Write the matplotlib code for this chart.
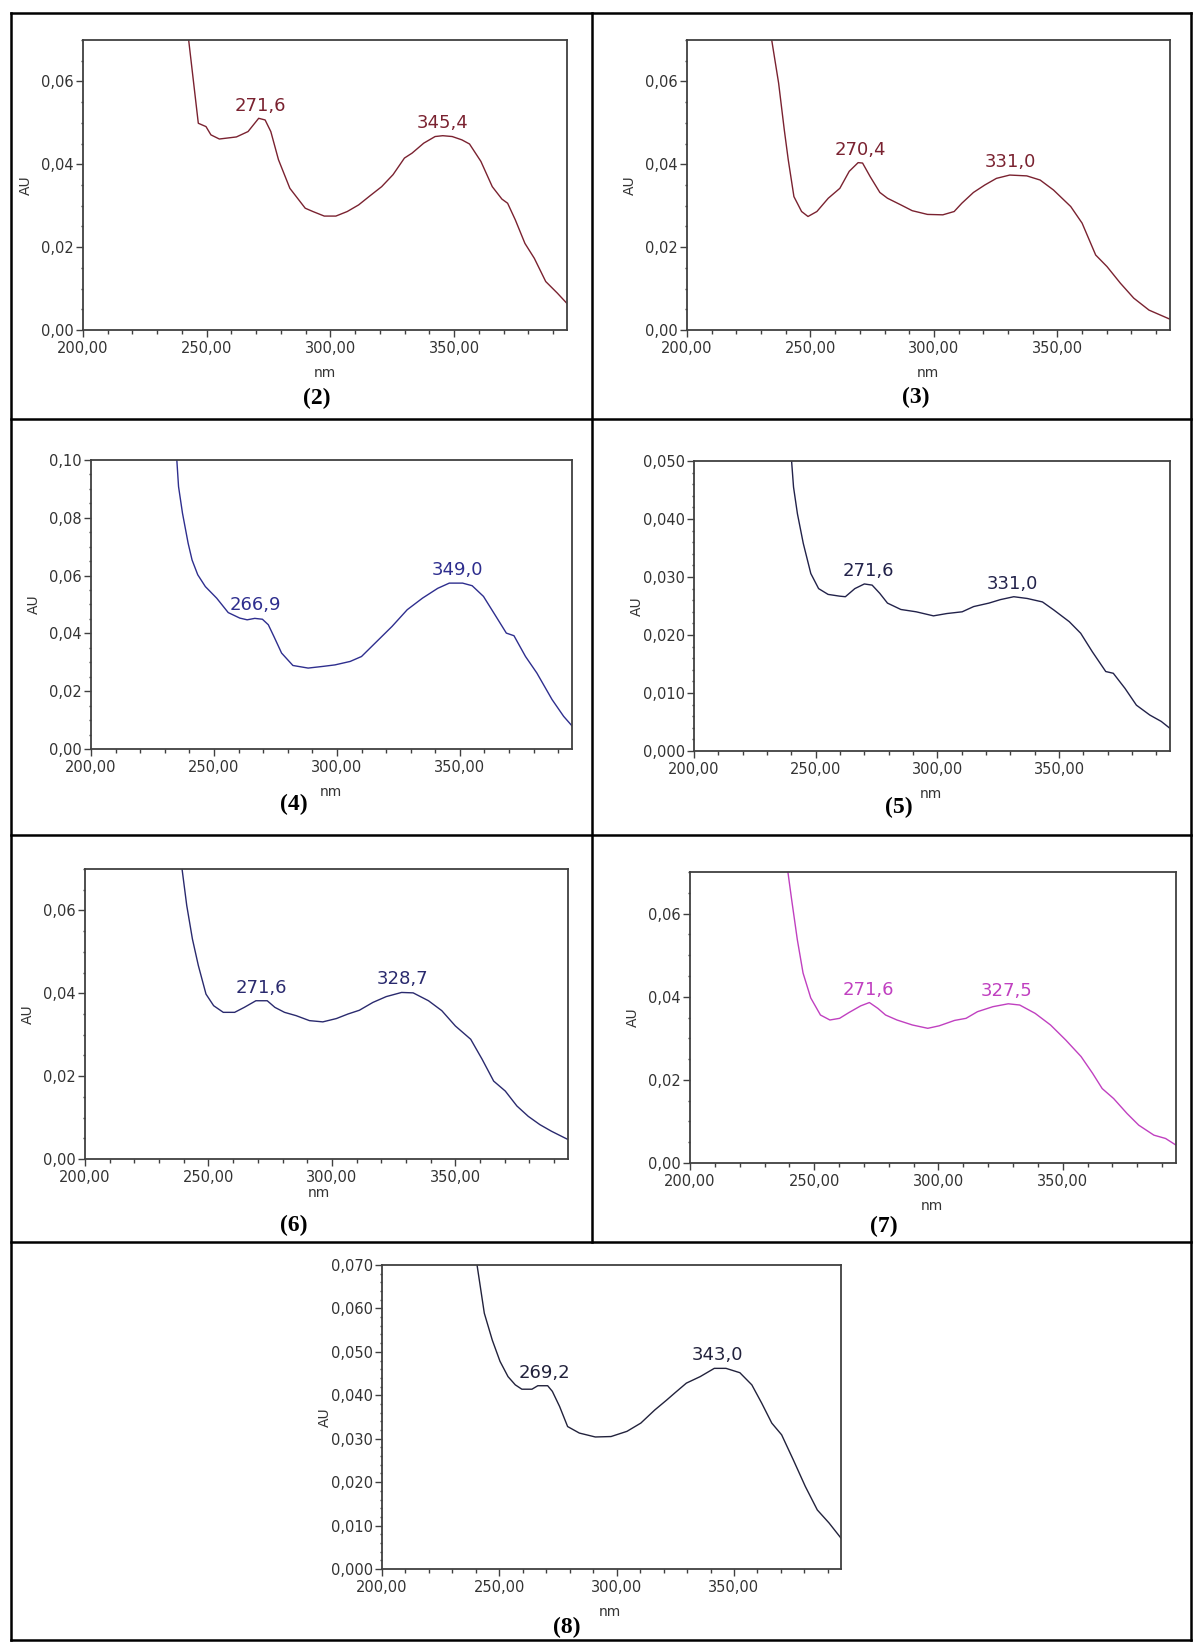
import matplotlib
matplotlib.use("Agg")
import matplotlib.pyplot as plt
import numpy as np
from matplotlib.lines import Line2D
from matplotlib.ticker import MultipleLocator, FuncFormatter

W, H = 1193, 1642
DPI = 100

# UV spectra, wavelength (nm) vs absorbance (AU)
nm_2 = [242.7, 246.6, 249.7, 251.7, 255.1, 262.0, 266.7, 271.0, 273.6, 275.9, 279.0, 283.6,
        289.8, 292.9, 297.5, 302.2, 306.8, 311.4, 316.0, 320.7, 325.3, 329.9, 333.0, 337.7,
        342.3, 345.4, 349.2, 353.1, 356.2, 360.8, 365.4, 369.3, 371.6, 374.7, 378.6, 382.4,
        387.0, 391.7, 395.6]
au_2 = [0.0700, 0.0499, 0.0491, 0.0471, 0.0461, 0.0466, 0.0479, 0.0511, 0.0507, 0.0479, 0.0411, 0.0342,
        0.0294, 0.0286, 0.0275, 0.0275, 0.0286, 0.0302, 0.0324, 0.0346, 0.0375, 0.0415, 0.0427, 0.0451,
        0.0467, 0.0469, 0.0467, 0.0459, 0.0449, 0.0407, 0.0346, 0.0316, 0.0306, 0.0266, 0.0209, 0.0173,
        0.0117, 0.0089, 0.0064]
peaks_2 = [271.6, 345.4]

nm_3 = [234.3, 237.1, 239.4, 241.0, 243.3, 246.4, 249.0, 252.6, 257.2, 261.9, 265.7, 269.3, 271.1,
        274.2, 278.1, 281.2, 286.6, 291.2, 297.4, 303.6, 308.2, 311.3, 316.0, 320.6, 325.3, 330.7,
        337.6, 343.0, 348.4, 355.4, 360.0, 365.5, 370.1, 375.5, 380.9, 387.1, 395.6]
au_3 = [0.0700, 0.0596, 0.0483, 0.0411, 0.0322, 0.0286, 0.0274, 0.0286, 0.0318, 0.0342, 0.0383, 0.0404, 0.0403,
        0.0370, 0.0332, 0.0318, 0.0302, 0.0288, 0.0279, 0.0278, 0.0286, 0.0306, 0.0332, 0.0350, 0.0366, 0.0374,
        0.0372, 0.0362, 0.0338, 0.0298, 0.0258, 0.0181, 0.0153, 0.0113, 0.0077, 0.0048, 0.0026]
peaks_3 = [270.4, 331.0]

nm_4 = [234.9, 235.6, 237.2, 239.5, 241.1, 243.4, 246.5, 251.1, 255.8, 260.5, 263.5, 266.6, 269.7,
        272.1, 274.4, 277.5, 282.1, 288.3, 294.5, 299.2, 305.4, 310.0, 316.2, 322.4, 328.6, 334.8,
        341.0, 345.7, 351.1, 355.0, 359.6, 364.3, 368.9, 372.0, 376.7, 381.3, 387.5, 392.2, 395.6]
au_4 = [0.1000, 0.0908, 0.0816, 0.0712, 0.0654, 0.0603, 0.0562, 0.0522, 0.0472, 0.0453, 0.0447, 0.0452, 0.0449,
        0.0430, 0.0389, 0.0332, 0.0289, 0.0280, 0.0286, 0.0291, 0.0303, 0.0320, 0.0372, 0.0424, 0.0482, 0.0522,
        0.0556, 0.0574, 0.0574, 0.0565, 0.0528, 0.0464, 0.0401, 0.0392, 0.0320, 0.0263, 0.0171, 0.0113, 0.0080]
peaks_4 = [266.9, 349.0]

nm_5 = [240.1, 240.9, 242.5, 244.9, 248.0, 251.2, 255.1, 259.8, 262.2, 266.1, 270.0, 273.2, 276.3,
        279.5, 285.0, 291.3, 298.4, 303.9, 310.2, 314.9, 321.2, 325.9, 331.4, 336.9, 343.2, 347.9,
        354.2, 358.9, 363.7, 369.2, 372.3, 377.1, 381.8, 387.3, 392.0, 395.6]
au_5 = [0.0500, 0.0455, 0.0409, 0.0358, 0.0306, 0.0280, 0.0270, 0.0267, 0.0266, 0.0280, 0.0288, 0.0286, 0.0272,
        0.0255, 0.0244, 0.0240, 0.0233, 0.0237, 0.0240, 0.0249, 0.0255, 0.0261, 0.0266, 0.0263, 0.0257, 0.0243,
        0.0223, 0.0203, 0.0171, 0.0137, 0.0134, 0.0108, 0.0079, 0.0062, 0.0051, 0.0039]
peaks_5 = [271.6, 331.0]

nm_6 = [239.3, 241.2, 243.5, 245.9, 249.0, 252.1, 256.0, 260.6, 264.5, 269.2, 273.8, 276.9, 280.8,
        285.5, 290.9, 296.3, 301.8, 306.5, 311.1, 316.6, 322.0, 328.2, 332.9, 339.1, 344.5, 350.0,
        356.2, 360.8, 365.5, 370.2, 374.9, 379.5, 384.2, 388.9, 395.6]
au_6 = [0.0700, 0.0612, 0.0531, 0.0467, 0.0398, 0.0370, 0.0354, 0.0354, 0.0366, 0.0382, 0.0382, 0.0366, 0.0354,
        0.0346, 0.0334, 0.0331, 0.0339, 0.0350, 0.0359, 0.0378, 0.0392, 0.0402, 0.0401, 0.0382, 0.0358, 0.0321,
        0.0289, 0.0241, 0.0188, 0.0164, 0.0128, 0.0103, 0.0083, 0.0067, 0.0047]
peaks_6 = [271.6, 328.7]

nm_7 = [239.4, 240.9, 243.2, 245.5, 248.6, 252.5, 256.3, 260.2, 264.0, 268.7, 272.2, 275.6, 278.7,
        283.3, 289.5, 295.7, 300.3, 306.5, 311.1, 315.7, 321.9, 328.1, 332.7, 338.9, 345.1, 351.2,
        357.4, 362.0, 365.9, 370.5, 375.9, 380.6, 386.7, 391.4, 395.6]
au_7 = [0.0700, 0.0634, 0.0537, 0.0457, 0.0397, 0.0356, 0.0344, 0.0348, 0.0362, 0.0378, 0.0386, 0.0372, 0.0356,
        0.0344, 0.0332, 0.0324, 0.0330, 0.0343, 0.0348, 0.0364, 0.0376, 0.0383, 0.0380, 0.0360, 0.0332, 0.0296,
        0.0256, 0.0216, 0.0179, 0.0155, 0.0119, 0.0091, 0.0067, 0.0059, 0.0043]
peaks_7 = [271.6, 327.5]

nm_8 = [240.5, 241.9, 243.6, 247.0, 250.3, 253.7, 256.8, 259.6, 263.9, 266.4, 270.6, 272.6, 275.7,
        279.1, 284.1, 290.9, 297.6, 304.4, 310.3, 316.2, 321.3, 324.7, 329.7, 335.6, 341.6, 346.6,
        352.5, 357.6, 361.8, 366.1, 370.3, 375.3, 380.4, 385.5, 390.5, 395.6]
au_8 = [0.0700, 0.0650, 0.0589, 0.0527, 0.0478, 0.0443, 0.0424, 0.0414, 0.0414, 0.0422, 0.0422, 0.0409, 0.0374,
        0.0328, 0.0313, 0.0304, 0.0305, 0.0317, 0.0336, 0.0366, 0.0389, 0.0405, 0.0428, 0.0443, 0.0462, 0.0462,
        0.0452, 0.0424, 0.0382, 0.0336, 0.0309, 0.0251, 0.0190, 0.0136, 0.0106, 0.0071]
peaks_8 = [269.2, 343.0]

tags = ["(2)", "(3)", "(4)", "(5)", "(6)", "(7)", "(8)"]
series = [(nm_2, au_2, peaks_2), (nm_3, au_3, peaks_3), (nm_4, au_4, peaks_4), (nm_5, au_5, peaks_5),
          (nm_6, au_6, peaks_6), (nm_7, au_7, peaks_7), (nm_8, au_8, peaks_8)]

# per panel: axes box in px (left, top, right, bottom), colour, y top, major step, minor step,
# y decimals, "nm" position, tag position
panels = [
    dict(box=(83, 40, 567, 330), color="#7a2230", ytop=0.07, step=0.02, minor=0.005, dec=2,
         nm_pos=(325, 373), tag_pos=(317, 398)),
    dict(box=(687, 40, 1170, 330), color="#7a2230", ytop=0.07, step=0.02, minor=0.005, dec=2,
         nm_pos=(928, 373), tag_pos=(916, 397)),
    dict(box=(91, 460, 572, 749), color="#2e2e8e", ytop=0.10, step=0.02, minor=0.005, dec=2,
         nm_pos=(331, 792), tag_pos=(294, 804)),
    dict(box=(694, 461, 1170, 751), color="#22224a", ytop=0.05, step=0.01, minor=0.002, dec=3,
         nm_pos=(931, 794), tag_pos=(899, 807)),
    dict(box=(85, 869, 568, 1159), color="#2a2a6e", ytop=0.07, step=0.02, minor=0.005, dec=2,
         nm_pos=(319, 1193), tag_pos=(294, 1225)),
    dict(box=(690, 872, 1176, 1163), color="#c040c0", ytop=0.07, step=0.02, minor=0.005, dec=2,
         nm_pos=(932, 1206), tag_pos=(884, 1226)),
    dict(box=(382, 1265, 841, 1569), color="#22223c", ytop=0.07, step=0.01, minor=0.002, dec=3,
         nm_pos=(610, 1612), tag_pos=(567, 1627)),
]

TEXT = "#333333"
FRAME = "#404040"

fig = plt.figure(figsize=(W / DPI, H / DPI), dpi=DPI)
fig.patch.set_facecolor("white")


def fx(x):
    return x / W


def fy(y):
    return 1 - y / H


def comma(dec):
    return FuncFormatter(lambda v, pos: f"{v:.{dec}f}".replace(".", ","))


for tag, (x, y, peaks), p in zip(tags, series, panels):
    l, t, r, b = p["box"]
    ax = fig.add_axes([fx(l), fy(b), fx(r) - fx(l), fy(t) - fy(b)])
    ax.plot(x, y, color=p["color"], lw=1.0)
    ax.set_xlim(200, 395.6)
    ax.set_ylim(0, p["ytop"])

    ax.xaxis.set_major_locator(MultipleLocator(50))
    ax.xaxis.set_minor_locator(MultipleLocator(10))
    ax.yaxis.set_major_locator(MultipleLocator(p["step"]))
    ax.yaxis.set_minor_locator(MultipleLocator(p["minor"]))
    ax.xaxis.set_major_formatter(comma(2))
    ax.yaxis.set_major_formatter(comma(p["dec"]))

    ax.tick_params(which="major", direction="out", length=5, width=1.0, color=FRAME,
                   labelsize=10.5, labelcolor=TEXT, pad=3)
    ax.tick_params(axis="x", which="minor", direction="out", length=3, width=1.0, color=FRAME)
    ax.tick_params(axis="y", which="minor", direction="out", length=1.5, width=1.0, color=FRAME)
    ax.tick_params(axis="y", which="major", pad=1.5)
    for s in ax.spines.values():
        s.set_color(FRAME)
        s.set_linewidth(1.3)

    # y label sits about 50 px left of the frame
    ax.set_ylabel("AU", fontsize=10, color=TEXT)
    ax.yaxis.set_label_coords(-50 / (r - l), 0.5)

    # peak wavelengths
    for pk in peaks:
        ax.annotate(f"{pk:.1f}".replace(".", ","), xy=(pk, np.interp(pk, x, y)),
                    xytext=(0, 3), textcoords="offset points", ha="center", va="bottom",
                    fontsize=13, color=p["color"])

    fig.text(fx(p["nm_pos"][0]), fy(p["nm_pos"][1]), "nm", fontsize=10, color=TEXT,
             ha="center", va="center")
    fig.text(fx(p["tag_pos"][0]), fy(p["tag_pos"][1]), tag, fontsize=17, fontweight="bold",
             family=["Liberation Serif", "DejaVu Serif"], ha="center", va="center", color="black")

# table grid around the panels
grid_kw = dict(color="black", linewidth=1.8, transform=fig.transFigure, solid_capstyle="projecting")
L, R, T, B = 11, 1191, 13, 1640
for y in (T, 419, 835, 1242, B):
    fig.add_artist(Line2D([fx(L), fx(R)], [fy(y), fy(y)], **grid_kw))
for x in (L, R):
    fig.add_artist(Line2D([fx(x), fx(x)], [fy(T), fy(B)], **grid_kw))
fig.add_artist(Line2D([fx(592), fx(592)], [fy(T), fy(1242)], **grid_kw))

fig.savefig("out.png", dpi=DPI, facecolor="white")
